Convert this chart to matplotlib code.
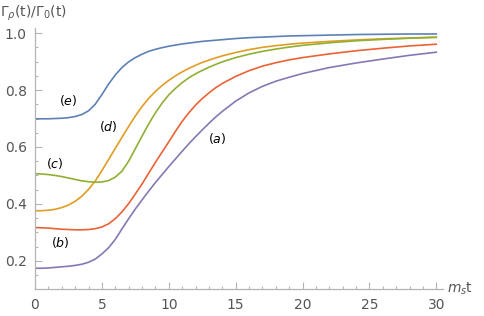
import numpy as np
import matplotlib
matplotlib.use("Agg")
import matplotlib.pyplot as plt

# values (one shared time grid)
t = [0, 0.5, 1, 1.5, 2, 2.5, 3, 3.5, 4, 4.5, 5, 5.5, 6, 6.5, 7, 7.5, 8, 8.5, 9, 9.5,
     10, 10.5, 11, 11.5, 12, 12.5, 13, 13.5, 14, 15, 16, 17, 18, 19, 20, 22, 24, 26, 28, 30]

curve_e = [0.699, 0.699, 0.699, 0.700, 0.701, 0.703, 0.707, 0.714, 0.727, 0.750, 0.784, 0.821, 0.853, 0.879,
           0.899, 0.914, 0.926, 0.936, 0.943, 0.949, 0.954, 0.958, 0.962, 0.965, 0.968, 0.971, 0.973, 0.975,
           0.977, 0.981, 0.984, 0.986, 0.988, 0.990, 0.991, 0.993, 0.995, 0.996, 0.997, 0.997]

curve_d = [0.376, 0.376, 0.378, 0.381, 0.387, 0.396, 0.409, 0.427, 0.451, 0.480, 0.517, 0.556, 0.595, 0.634,
           0.672, 0.709, 0.742, 0.771, 0.795, 0.816, 0.834, 0.850, 0.864, 0.876, 0.887, 0.897, 0.905, 0.913,
           0.920, 0.932, 0.942, 0.950, 0.956, 0.961, 0.965, 0.971, 0.976, 0.980, 0.983, 0.986]

curve_c = [0.506, 0.505, 0.503, 0.500, 0.496, 0.491, 0.486, 0.481, 0.478, 0.476, 0.477, 0.482, 0.494, 0.515,
           0.550, 0.594, 0.638, 0.681, 0.720, 0.754, 0.783, 0.806, 0.826, 0.843, 0.857, 0.869, 0.880, 0.890,
           0.899, 0.914, 0.926, 0.936, 0.944, 0.951, 0.957, 0.966, 0.973, 0.978, 0.982, 0.985]

curve_b = [0.317, 0.316, 0.315, 0.313, 0.311, 0.310, 0.309, 0.309, 0.310, 0.313, 0.319, 0.330, 0.348, 0.372,
           0.401, 0.435, 0.470, 0.508, 0.546, 0.582, 0.618, 0.655, 0.690, 0.720, 0.747, 0.770, 0.790, 0.808,
           0.823, 0.848, 0.868, 0.884, 0.896, 0.906, 0.914, 0.927, 0.938, 0.947, 0.955, 0.961]

curve_a = [0.174, 0.174, 0.175, 0.177, 0.179, 0.181, 0.184, 0.188, 0.195, 0.206, 0.224, 0.246, 0.275, 0.312,
           0.348, 0.382, 0.414, 0.445, 0.475, 0.503, 0.531, 0.558, 0.585, 0.611, 0.636, 0.660, 0.683, 0.705,
           0.725, 0.761, 0.790, 0.813, 0.831, 0.845, 0.858, 0.879, 0.895, 0.909, 0.922, 0.933]

labels = ["(a)", "(b)", "(c)", "(d)", "(e)"]
label_pos = [(13.6, 0.631), (1.87, 0.264), (1.5, 0.543), (5.48, 0.672), (2.47, 0.764)]

colors = {"a": "#8778B3", "b": "#EB6235", "c": "#8FB032", "d": "#E19C24", "e": "#5E81B5"}
axis_gray = "#b4b4b4"
text_gray = "#555555"

fig = plt.figure(figsize=(4.85, 3.16), dpi=100)
ax = fig.add_axes([35 / 485, 1 - 289.3 / 316, (443 - 35) / 485, (289.3 - 28) / 316])

ax.plot(t, curve_e, color=colors["e"], lw=1.2)
ax.plot(t, curve_d, color=colors["d"], lw=1.2)
ax.plot(t, curve_c, color=colors["c"], lw=1.2)
ax.plot(t, curve_b, color=colors["b"], lw=1.2)
ax.plot(t, curve_a, color=colors["a"], lw=1.2)

for lab, (x, y) in zip(labels, label_pos):
    ax.text(x, y, "$" + lab + "$", fontsize=9, ha="center", va="center", color="black")

ax.set_xlim(0, 30.5)
ax.set_ylim(0.1, 1.018)

for side in ["top", "right"]:
    ax.spines[side].set_visible(False)
for side in ["left", "bottom"]:
    ax.spines[side].set_color(axis_gray)
    ax.spines[side].set_linewidth(0.9)

ax.set_xticks(np.arange(0, 31, 5))
ax.set_xticks(np.arange(0, 31, 1), minor=True)
ax.set_yticks([0.2, 0.4, 0.6, 0.8, 1.0])
ax.set_yticklabels(["0.2", "0.4", "0.6", "0.8", "1.0"])
ax.set_yticks(np.arange(0.15, 1.01, 0.05), minor=True)
ax.tick_params(which="both", direction="in", color=axis_gray, width=0.8,
               labelcolor=text_gray, labelsize=10)
ax.tick_params(which="major", length=5, pad=6)
ax.tick_params(which="minor", length=2.5)

fig.text(0.0, 1 - 13 / 316, r"$\Gamma_\rho(\mathrm{t})/\Gamma_0(\mathrm{t})$",
         fontsize=10, color=text_gray, ha="left", va="center")
fig.text(447 / 485, 1 - 289 / 316, r"$m_s\mathrm{t}$", fontsize=10, color=text_gray,
         ha="left", va="center")

fig.savefig("out.png", dpi=100)
